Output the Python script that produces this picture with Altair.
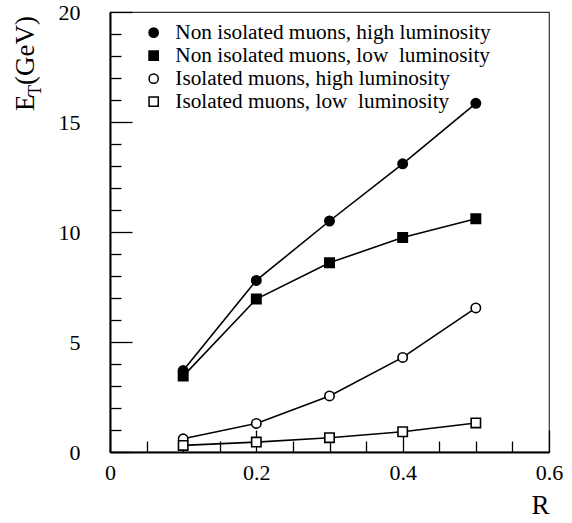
import altair as alt
import pandas as pd

# ---- data ----
R = [0.1, 0.2, 0.3, 0.4, 0.5]
non_iso_high = [3.7, 7.8, 10.5, 13.1, 15.85]
non_iso_low = [3.45, 6.95, 8.6, 9.75, 10.6]
iso_high = [0.6, 1.3, 2.55, 4.3, 6.55]
iso_low = [0.3, 0.45, 0.65, 0.92, 1.32]

series_names = [
    "Non isolated muons, high luminosity",
    "Non isolated muons, low\u00a0 luminosity",
    "Isolated muons, high luminosity",
    "Isolated muons, low\u00a0 luminosity",
]
series_values = [non_iso_high, non_iso_low, iso_high, iso_low]
series_shapes = ["circle", "square", "circle", "square"]
series_fills = ["black", "black", "white", "white"]
series_strokes = ["black", "black", "black", "black"]

x_major = [0, 0.2, 0.4, 0.6]
x_minor = [0.05, 0.1, 0.15, 0.25, 0.3, 0.35, 0.45, 0.5, 0.55]
y_major = [0, 5, 10, 15, 20]
y_minor = [1, 2, 3, 4, 6, 7, 8, 9, 11, 12, 13, 14, 16, 17, 18, 19]

x_title = "R"
y_title_parts = ["E", "T", "(GeV)"]

rows = []
for name, vals in zip(series_names, series_values):
    for r, v in zip(R, vals):
        rows.append({"R": r, "ET": v, "series": name})
df = pd.DataFrame(rows)

W, H = 439, 440
FONT = "Times New Roman, Liberation Serif, Times, serif"

xscale = alt.Scale(domain=[0, 0.6], nice=False, zero=False)
yscale = alt.Scale(domain=[0, 20], nice=False, zero=False)

base = alt.Chart(df)

legend = alt.Legend(
    orient="none", legendX=33, legendY=10, title=None,
    labelFont=FONT, labelFontSize=21.3, labelColor="black", labelLimit=0,
    symbolSize=85, symbolStrokeWidth=1.5, symbolStrokeColor="black",
    rowPadding=1, labelOffset=11, padding=0,
)

lines = base.mark_line(color="black", strokeWidth=1.6).encode(
    x=alt.X("R:Q", scale=xscale, axis=alt.Axis(
        values=x_major, ticks=False, domain=True, domainColor="black", domainWidth=2,
        labelFont=FONT, labelFontSize=22, labelColor="black", labelPadding=10,
        format="~g", labelFlush=False, grid=False,
        title=x_title, titleFont=FONT, titleFontSize=27, titleFontWeight="normal",
        titleColor="black", titleX=W, titleY=61, titleAlign="right",
        titleBaseline="alphabetic", titleAnchor="end")),
    y=alt.Y("ET:Q", scale=yscale, axis=alt.Axis(
        values=y_major, ticks=False, domain=True, domainColor="black", domainWidth=2,
        labelFont=FONT, labelFontSize=22, labelColor="black", labelPadding=30,
        labelFlush=False, grid=False, title=None)),
    detail="series:N",
)

points = base.mark_point(size=88, opacity=1, strokeWidth=1.6).encode(
    x=alt.X("R:Q", scale=xscale, axis=alt.Axis(
        orient="top", offset=-H, values=x_major, tickSize=22, tickWidth=1.3,
        tickColor="black", labels=False, domain=False, grid=False, title=None)),
    y=alt.Y("ET:Q", scale=yscale, axis=alt.Axis(
        orient="right", offset=-W, values=y_major, tickSize=22, tickWidth=1.3,
        tickColor="black", labels=False, domain=False, grid=False, title=None)),
    shape=alt.Shape("series:N", scale=alt.Scale(domain=series_names, range=series_shapes),
                    legend=legend, sort=series_names),
    fill=alt.Fill("series:N", scale=alt.Scale(domain=series_names, range=series_fills),
                  legend=legend, sort=series_names),
    stroke=alt.Stroke("series:N", scale=alt.Scale(domain=series_names, range=series_strokes),
                      legend=legend, sort=series_names),
)

minor = base.mark_point(opacity=0).encode(
    x=alt.X("R:Q", scale=xscale, axis=alt.Axis(
        orient="top", offset=-H, values=x_minor, tickSize=11, tickWidth=1.3,
        tickColor="black", labels=False, domain=False, grid=False, title=None)),
    y=alt.Y("ET:Q", scale=yscale, axis=alt.Axis(
        orient="right", offset=-W, values=y_minor, tickSize=11, tickWidth=1.3,
        tickColor="black", labels=False, domain=False, grid=False, title=None)),
)

tdf = pd.DataFrame({"t": y_title_parts})
title_E = alt.Chart(tdf).transform_filter(alt.datum.t == y_title_parts[0]).mark_text(
    angle=270, align="left", baseline="alphabetic", font=FONT, fontSize=27, color="black"
).encode(text="t:N", x=alt.value(-76), y=alt.value(99))
title_T = alt.Chart(tdf).transform_filter(alt.datum.t == y_title_parts[1]).mark_text(
    angle=270, align="left", baseline="alphabetic", font=FONT, fontSize=18, color="black"
).encode(text="t:N", x=alt.value(-69), y=alt.value(84))
title_G = alt.Chart(tdf).transform_filter(alt.datum.t == y_title_parts[2]).mark_text(
    angle=270, align="left", baseline="alphabetic", font=FONT, fontSize=27, color="black"
).encode(text="t:N", x=alt.value(-76), y=alt.value(73))

chart = alt.layer(minor, lines, points, title_E, title_T, title_G).resolve_axis(
    x="independent", y="independent"
).properties(
    width=W, height=H,
    autosize=alt.AutoSizeParams(type="none"),
    padding={"left": 110, "top": 12, "right": 23, "bottom": 71},
    background="white",
).configure_view(stroke="#333333", strokeWidth=1.2).configure_axis(grid=False)

chart.save("out.html", embed_options={"renderer": "svg", "actions": False})
